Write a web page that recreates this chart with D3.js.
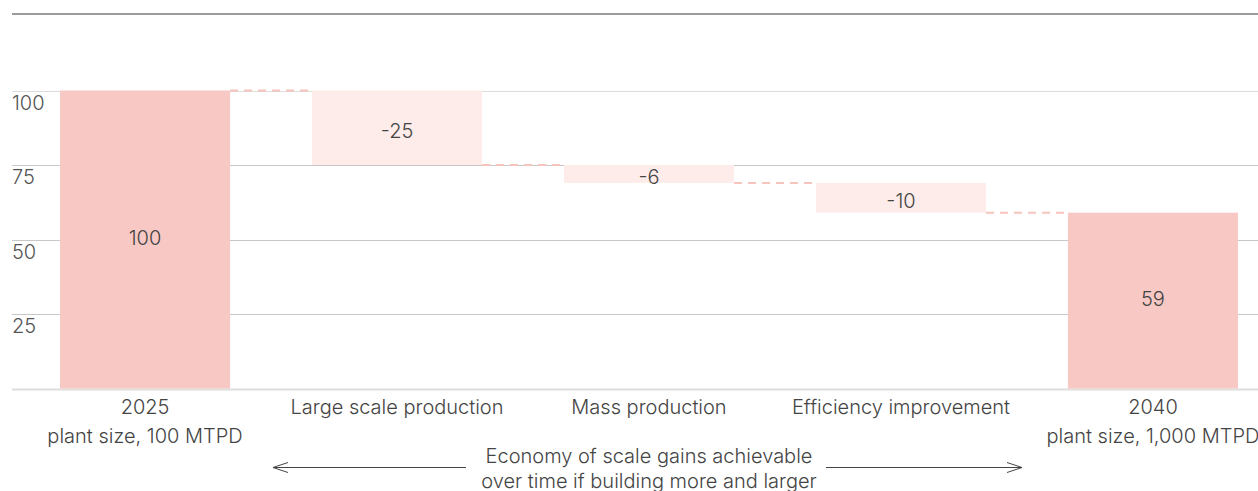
<!DOCTYPE html>
<html>
<head>
<meta charset="utf-8">
<script src="https://cdn.jsdelivr.net/npm/d3@7"></script>
<style>
  html, body { margin: 0; padding: 0; background: #fff; }
  svg { display: block; font-family: Inter, "Noto Sans", sans-serif; font-weight: 300; }
</style>
</head>
<body>
<svg id="chart" width="1258" height="491"></svg>
<script>
// Waterfall: cost index from 2025 plant to 2040 plant
const categories = [
  ["2025", "plant size, 100 MTPD"],
  ["Large scale production"],
  ["Mass production"],
  ["Efficiency improvement"],
  ["2040", "plant size, 1,000 MTPD"]
];
const values = [100, -25, -6, -10, 59];
const kinds = ["total", "delta", "delta", "delta", "total"];
const yTicks = [25, 50, 75, 100];
const noteLines = ["Economy of scale gains achievable", "over time if building more and larger"];

const W = 1258, H = 491;
const FS = 20;
const svg = d3.select("#chart");

const x = d3.scaleBand()
  .domain(d3.range(categories.length))
  .range([60, 1238])
  .paddingInner(0.325)
  .paddingOuter(0);

const y = d3.scaleLinear().domain([0, 100]).range([388.5, 90.5]);

// running start/end for each step
let run = 0;
const bars = values.map((v, i) => {
  let y0, y1;
  if (kinds[i] === "total") { y0 = 0; y1 = v; run = v; }
  else { y0 = run + v; y1 = run; run = run + v; }
  return { i, v, y0, y1, kind: kinds[i], level: run };
});

// top rule
svg.append("line")
  .attr("x1", 12).attr("x2", W).attr("y1", 14).attr("y2", 14)
  .attr("stroke", "#7a7a7a").attr("stroke-width", 1.5);

// gridlines
const grid = svg.append("g");
grid.selectAll("line.g").data(yTicks).join("line")
  .attr("x1", 12).attr("x2", W)
  .attr("y1", d => Math.round(y(d)) + 0.5).attr("y2", d => Math.round(y(d)) + 0.5)
  .attr("stroke", d => d === 100 ? "#dcdcdc" : "#c8c8c8").attr("stroke-width", 1);
grid.append("line")
  .attr("x1", 12).attr("x2", W).attr("y1", y(0) + 1).attr("y2", y(0) + 1)
  .attr("stroke", "#dddddd").attr("stroke-width", 2);

// tick labels
svg.append("g").selectAll("text").data(yTicks).join("text")
  .attr("x", 12).attr("y", d => y(d) + 19)
  .attr("font-size", FS).attr("fill", "#555")
  .text(d => d);

// connectors
const conn = svg.append("g");
bars.slice(0, -1).forEach(b => {
  conn.append("line")
    .attr("x1", x(b.i) + x.bandwidth()).attr("x2", x(b.i + 1))
    .attr("y1", y(b.level)).attr("y2", y(b.level))
    .attr("stroke", "#f7c3bd").attr("stroke-width", 2)
    .attr("stroke-dasharray", "8,6");
});

// bars
svg.append("g").selectAll("rect").data(bars).join("rect")
  .attr("x", d => x(d.i)).attr("width", x.bandwidth())
  .attr("y", d => y(d.y1)).attr("height", d => y(d.y0) - y(d.y1))
  .attr("fill", d => d.kind === "total" ? "#f8c8c4" : "#fdece9");

// value labels
svg.append("g").selectAll("text").data(bars).join("text")
  .attr("x", d => x(d.i) + x.bandwidth() / 2)
  .attr("y", d => (y(d.y0) + y(d.y1)) / 2 + (d.kind === "total" ? -2 : 3))
  .attr("text-anchor", "middle").attr("dominant-baseline", "central")
  .attr("font-size", FS).attr("fill", "#444")
  .text(d => d.v);

// category labels
const cat = svg.append("g").selectAll("text").data(categories).join("text")
  .attr("text-anchor", "middle").attr("font-size", FS).attr("fill", "#444")
  .attr("x", (d, i) => x(i) + x.bandwidth() / 2);
cat.selectAll("tspan").data(d => d).join("tspan")
  .attr("x", function () { return d3.select(this.parentNode).attr("x"); })
  .attr("y", (d, j) => 414 + j * 28.5)
  .text(d => d);

// arrow note
const noteX = x(2) + x.bandwidth() / 2;
const note = svg.append("g").attr("fill", "#444").attr("font-size", FS);
note.selectAll("text").data(noteLines).join("text")
  .attr("x", noteX).attr("y", (d, j) => 463 + j * 25)
  .attr("text-anchor", "middle").text(d => d);

const ay = 467.5;
const arrows = svg.append("g").attr("stroke", "#444").attr("stroke-width", 1).attr("fill", "none");
arrows.append("line").attr("x1", 273).attr("x2", 466).attr("y1", ay).attr("y2", ay);
arrows.append("path").attr("d", `M288,${ay - 5}L273,${ay}L288,${ay + 5}`);
arrows.append("line").attr("x1", 826).attr("x2", 1022).attr("y1", ay).attr("y2", ay);
arrows.append("path").attr("d", `M1007,${ay - 5}L1022,${ay}L1007,${ay + 5}`);
</script>
</body>
</html>
